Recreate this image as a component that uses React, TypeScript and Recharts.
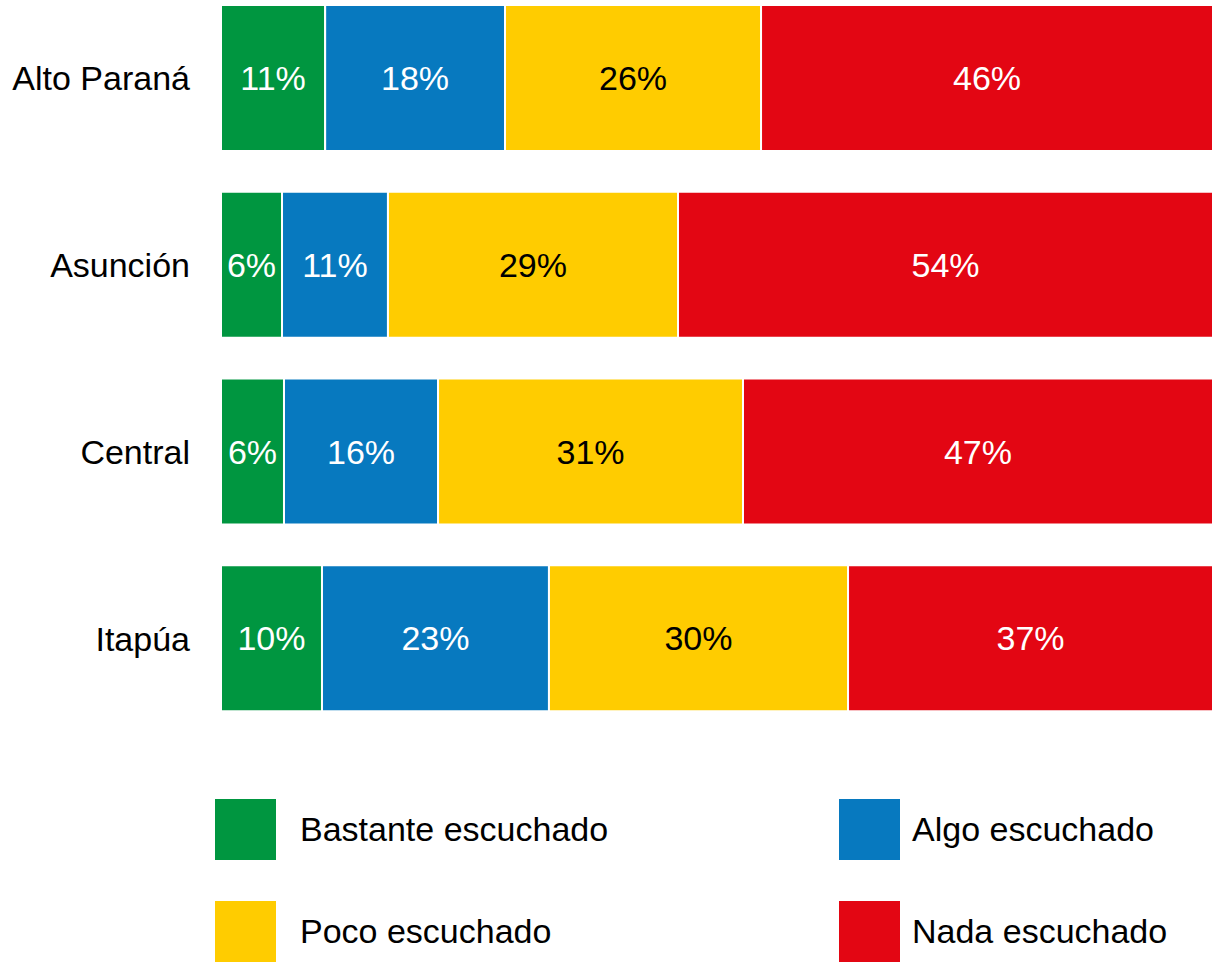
import { Bar, BarChart, LabelList, XAxis, YAxis } from "recharts";

const regions = ["Alto Paraná", "Asunción", "Central", "Itapúa"];
const bastante = [10.5, 6.15, 6.35, 10.18];
const algo = [18.13, 10.68, 15.53, 22.88];
const poco = [25.81, 29.24, 30.74, 30.15];
const nada = [45.56, 53.93, 47.38, 36.79];

const series = [
  { key: "bastante", name: "Bastante escuchado", color: "#009640", text: "#ffffff" },
  { key: "algo", name: "Algo escuchado", color: "#0779bf", text: "#ffffff" },
  { key: "poco", name: "Poco escuchado", color: "#ffcc00", text: "#000000" },
  { key: "nada", name: "Nada escuchado", color: "#e30613", text: "#ffffff" },
];

const data = regions.map((name, i) => ({
  name,
  bastante: bastante[i],
  algo: algo[i],
  poco: poco[i],
  nada: nada[i],
}));

const font = "'Liberation Sans', Arial, sans-serif";

const legendPos = [
  { left: 215, top: 799, textLeft: 300 },
  { left: 839, top: 799, textLeft: 912 },
  { left: 215, top: 901, textLeft: 300 },
  { left: 839, top: 901, textLeft: 912 },
];

export default function App() {
  return (
    <div style={{ position: "absolute", left: 0, top: 0, width: 1217, height: 966, fontFamily: font }}>
      <div style={{ position: "absolute", left: 0, top: -15 }}>
        <BarChart
          layout="vertical"
          width={1217}
          height={747}
          data={data}
          margin={{ top: 0, right: 4, bottom: 0, left: 0 }}
        >
          <XAxis type="number" domain={[0, 100]} hide />
          <YAxis
            type="category"
            dataKey="name"
            width={221}
            axisLine={false}
            tickLine={false}
            tickSize={0}
            tickMargin={31}
            tick={{ fill: "#000", fontSize: 34, fontFamily: font }}
          />
          {series.map((s) => (
            <Bar
              key={s.key}
              dataKey={s.key}
              stackId="a"
              fill={s.color}
              stroke="#ffffff"
              strokeWidth={2}
              barSize={146}
              isAnimationActive={false}
            >
              <LabelList
                dataKey={s.key}
                position="center"
                formatter={(v: any) => `${Math.round(Number(v))}%`}
                style={{ fill: s.text, fontSize: 34, fontFamily: font }}
              />
            </Bar>
          ))}
        </BarChart>
      </div>
      {series.map((s, i) => (
        <div key={s.key}>
          <div
            style={{
              position: "absolute",
              left: legendPos[i].left,
              top: legendPos[i].top,
              width: 61,
              height: 61,
              background: s.color,
            }}
          />
          <div
            style={{
              position: "absolute",
              left: legendPos[i].textLeft,
              top: legendPos[i].top,
              height: 61,
              lineHeight: "61px",
              fontSize: 34,
              color: "#000",
              whiteSpace: "nowrap",
            }}
          >
            {s.name}
          </div>
        </div>
      ))}
    </div>
  );
}
